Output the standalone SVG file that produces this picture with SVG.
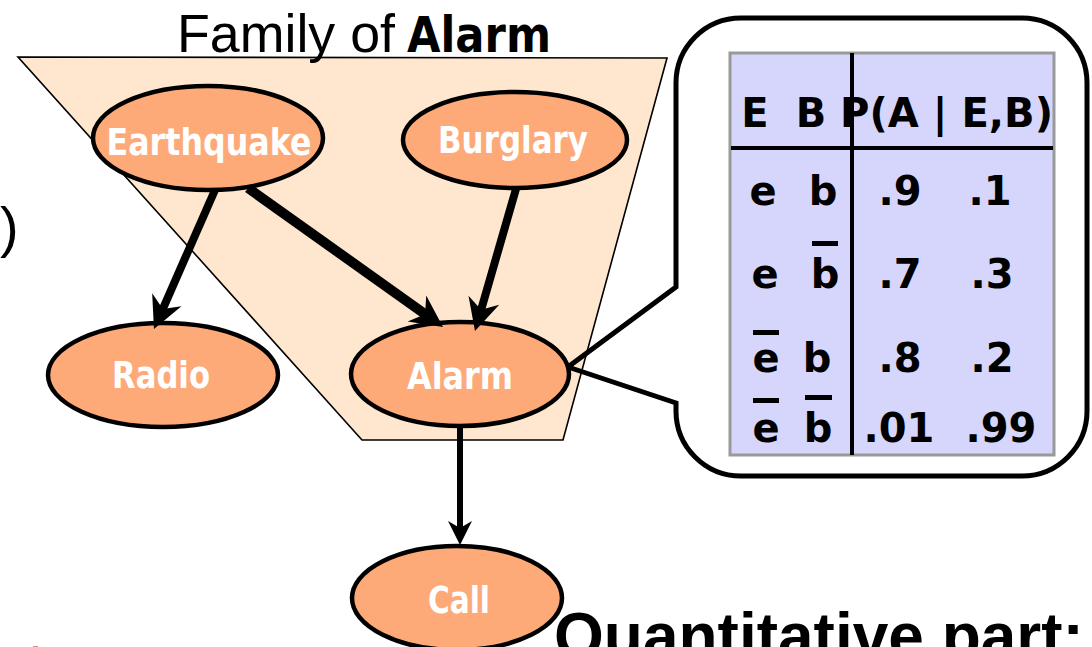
<svg xmlns="http://www.w3.org/2000/svg" width="1092" height="647" viewBox="0 0 1092 647">
  <style>
    .node ellipse { fill: #FDAA78; stroke: #000; stroke-width: 4.5; }
    .node text { fill: #fff; font-family: "Comic Sans MS", "DejaVu Sans", sans-serif; font-weight: bold; font-size: 38px; text-anchor: middle; }
    .edge { stroke: #000; fill: none; }
    .cpt { font-family: "Comic Sans MS", "DejaVu Sans", sans-serif; font-weight: bold; font-size: 40px; fill: #000; text-anchor: middle; }
    .cpt.hdr { text-anchor: start; }
    .bar { fill: #000; }
    .plain { font-family: "Liberation Sans", Arial, sans-serif; fill: #000; }
  </style>
  <defs>
    <marker id="head" viewBox="-12 -18 36 36" refX="0" refY="0" markerWidth="36" markerHeight="36" markerUnits="userSpaceOnUse" orient="auto">
      <path d="M21,0 L-11,-16 L-1,0 L-11,16 Z" fill="#000"/>
    </marker>
    <marker id="head-sm" viewBox="-10 -13 28 26" refX="0" refY="0" markerWidth="28" markerHeight="26" markerUnits="userSpaceOnUse" orient="auto">
      <path d="M16,0 L-8,-12 L-1,0 L-8,12 Z" fill="#000"/>
    </marker>
  </defs>

  <rect width="1092" height="647" fill="#fff"/>

  <!-- family region of Alarm -->
  <polygon id="family" points="18,57 667,58 563,440 362,440" fill="#FFE6CE" stroke="#000" stroke-width="1.6"/>

  <!-- heading -->
  <text class="plain" x="177" y="52" font-size="53" textLength="218" lengthAdjust="spacingAndGlyphs">Family of</text>
  <text x="407" y="52" font-family="'Comic Sans MS', 'DejaVu Sans', sans-serif" font-weight="bold" font-size="50" textLength="144" lengthAdjust="spacingAndGlyphs">Alarm</text>

  <!-- left margin bracket -->
  <text class="plain" x="0" y="246" font-size="56">)</text>

  <!-- CPT callout -->
  <g id="cpt-callout">
    <path d="M741,18 H1022 A65,65 0 0 1 1087,83 V411 A65,65 0 0 1 1022,476 H741 A65,65 0 0 1 676,411 V403 L568,367 L676,287 V83 A65,65 0 0 1 741,18 Z" fill="none" stroke="#000" stroke-width="5" stroke-linejoin="miter"/>
    <rect x="730" y="53" width="324" height="402" fill="#D6D6FC" stroke="#999" stroke-width="3"/>
    <line x1="852" y1="53" x2="852" y2="455" stroke="#000" stroke-width="4"/>
    <line x1="731" y1="148" x2="1053" y2="148" stroke="#000" stroke-width="4"/>

    <text class="cpt" x="755" y="127">E</text>
    <text class="cpt" x="811" y="127">B</text>
    <text class="cpt hdr" x="840" y="127" textLength="213" lengthAdjust="spacingAndGlyphs">P(A | E,B)</text>

    <text class="cpt" x="763" y="205">e</text>
    <text class="cpt" x="823" y="205">b</text>
    <text class="cpt" x="900" y="205">.9</text>
    <text class="cpt" x="990" y="205">.1</text>

    <text class="cpt" x="765" y="288">e</text>
    <text class="cpt" x="825" y="288">b</text>
    <rect class="bar" x="812" y="241" width="26" height="5"/>
    <text class="cpt" x="900" y="288">.7</text>
    <text class="cpt" x="992" y="288">.3</text>

    <text class="cpt" x="766" y="372">e</text>
    <rect class="bar" x="753" y="330" width="26" height="5"/>
    <text class="cpt" x="817" y="372">b</text>
    <text class="cpt" x="900" y="372">.8</text>
    <text class="cpt" x="992" y="372">.2</text>

    <text class="cpt" x="766" y="442">e</text>
    <rect class="bar" x="753" y="398" width="26" height="5"/>
    <text class="cpt" x="818" y="442">b</text>
    <rect class="bar" x="805" y="395" width="27" height="5"/>
    <text class="cpt" x="899" y="442">.01</text>
    <text class="cpt" x="1001" y="442">.99</text>
  </g>

  <!-- nodes -->
  <g id="earthquake" class="node">
    <ellipse cx="208" cy="138" rx="115" ry="52"/>
    <text x="209" y="155" textLength="205" lengthAdjust="spacingAndGlyphs">Earthquake</text>
  </g>
  <g id="burglary" class="node">
    <ellipse cx="515" cy="140" rx="112" ry="48"/>
    <text x="513" y="153" textLength="150" lengthAdjust="spacingAndGlyphs">Burglary</text>
  </g>
  <g id="radio" class="node">
    <ellipse cx="163" cy="375" rx="115" ry="52"/>
    <text x="161" y="388" textLength="98" lengthAdjust="spacingAndGlyphs">Radio</text>
  </g>
  <g id="alarm" class="node">
    <ellipse cx="460" cy="374" rx="109" ry="52"/>
    <text x="460" y="389" textLength="106" lengthAdjust="spacingAndGlyphs">Alarm</text>
  </g>
  <g id="call" class="node">
    <ellipse cx="457" cy="598" rx="105" ry="52"/>
    <text x="459" y="613" textLength="62" lengthAdjust="spacingAndGlyphs">Call</text>
  </g>

  <!-- connectors -->
  <g id="edges">
    <line class="edge" x1="215" y1="190" x2="162.4" y2="309.8" stroke-width="8" marker-end="url(#head)"/>
    <line class="edge" x1="248" y1="188" x2="425.9" y2="314.8" stroke-width="10" marker-end="url(#head)"/>
    <line class="edge" x1="516" y1="189" x2="480.8" y2="310.8" stroke-width="8" marker-end="url(#head)"/>
    <line class="edge" x1="460" y1="427" x2="460" y2="529" stroke-width="6" marker-end="url(#head-sm)"/>
  </g>

  <!-- caption -->
  <text class="plain" x="554" y="658" font-size="64" font-weight="bold">Quantitative part:</text>

  <line x1="33" y1="646.5" x2="38" y2="646.5" stroke="#E08A8A" stroke-width="1"/>
</svg>
